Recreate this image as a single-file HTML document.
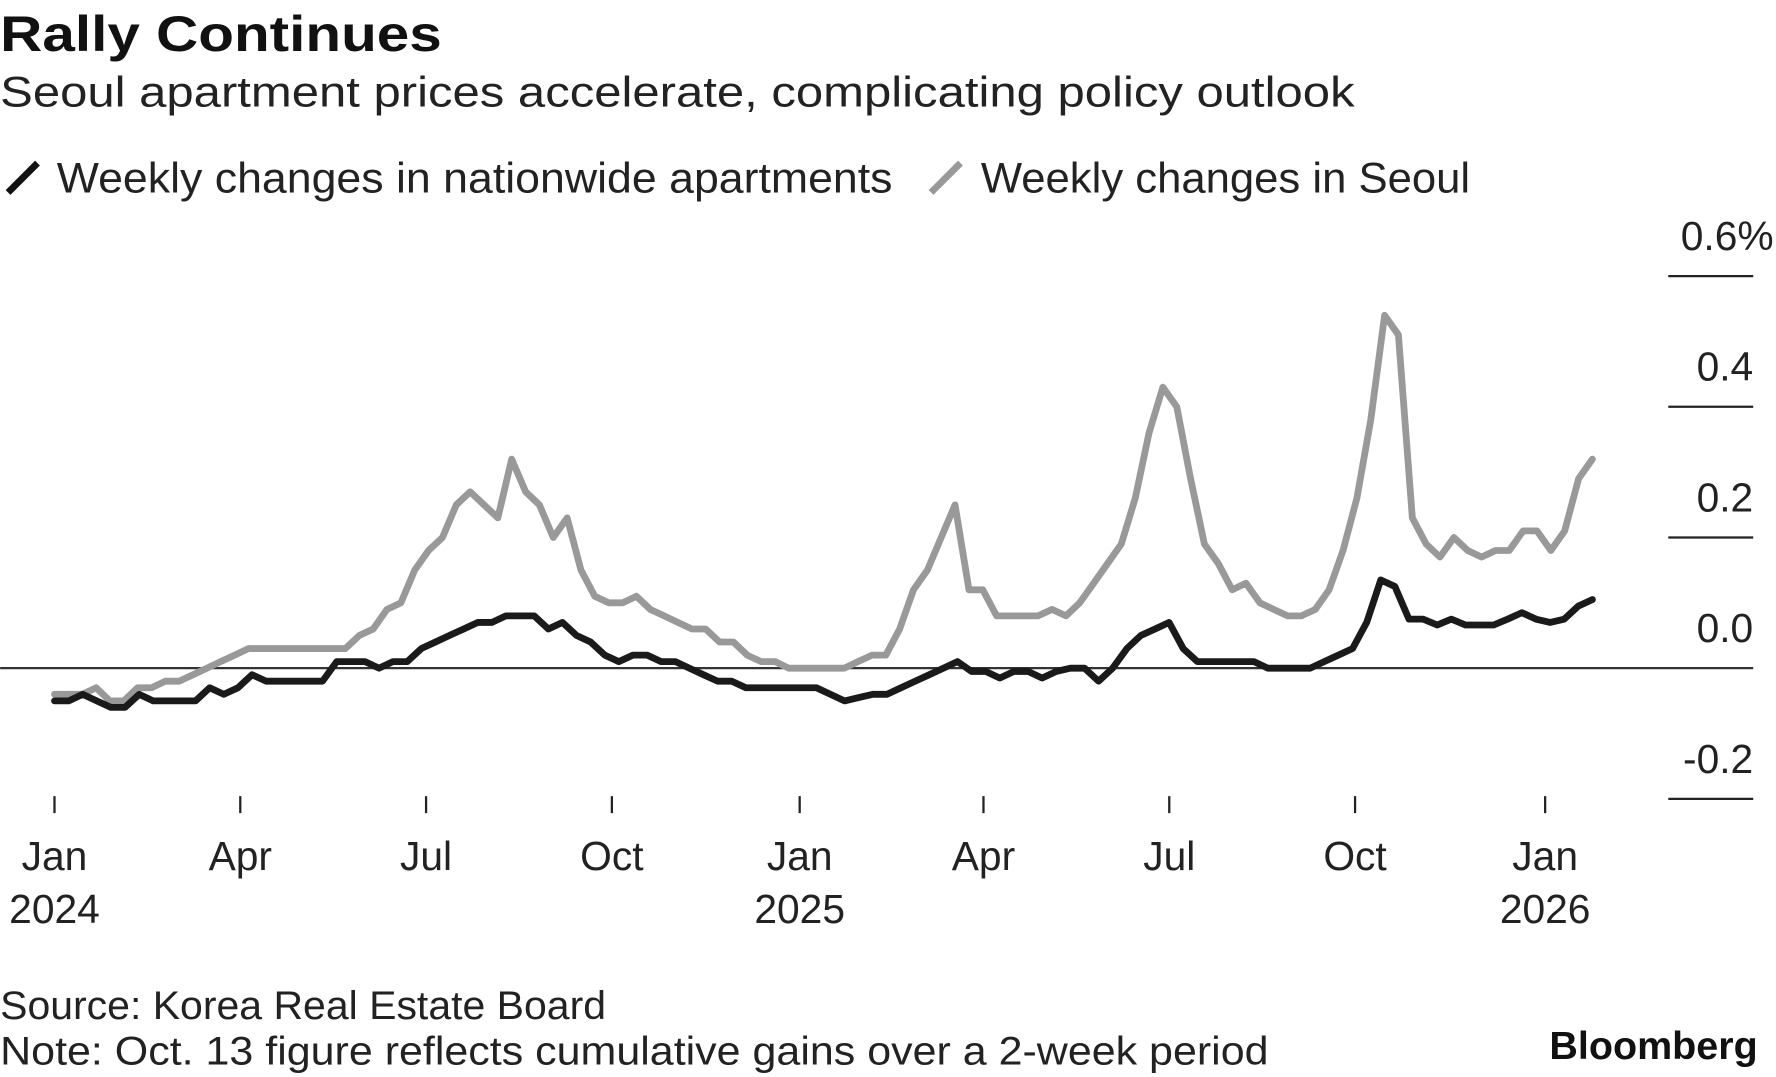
<!DOCTYPE html>
<html><head><meta charset="utf-8"><style>
html,body{margin:0;padding:0;background:#fff;}
svg{display:block;font-family:"Liberation Sans",sans-serif;}
</style></head><body>
<svg id="chart" width="1776" height="1077" viewBox="0 0 1568 951" xmlns="http://www.w3.org/2000/svg">
<rect width="1568" height="951" fill="#fff"/>
<text x="0" y="45" font-size="44" font-weight="bold" fill="#111" textLength="390" lengthAdjust="spacingAndGlyphs">Rally Continues</text>
<text x="0" y="94" font-size="38" fill="#222" textLength="1196" lengthAdjust="spacingAndGlyphs">Seoul apartment prices accelerate, complicating policy outlook</text>
<g>
<line x1="7" y1="170" x2="33" y2="144" stroke="#111" stroke-width="6"/>
<text x="50" y="170" font-size="38" fill="#222" textLength="738" lengthAdjust="spacingAndGlyphs">Weekly changes in nationwide apartments</text>
<line x1="822" y1="170" x2="848" y2="144" stroke="#999" stroke-width="6"/>
<text x="866" y="170" font-size="38" fill="#222" textLength="432" lengthAdjust="spacingAndGlyphs">Weekly changes in Seoul</text>
</g>
<g id="yaxis"></g>
<g id="xaxis"></g>
<g id="series"></g>
<text x="0" y="900" font-size="35" fill="#222" textLength="535" lengthAdjust="spacingAndGlyphs">Source: Korea Real Estate Board</text>
<text x="0" y="940" font-size="35" fill="#222" textLength="1120" lengthAdjust="spacingAndGlyphs">Note: Oct. 13 figure reflects cumulative gains over a 2-week period</text>
<text x="1368" y="935" font-size="34" font-weight="bold" fill="#111" textLength="184" lengthAdjust="spacingAndGlyphs">Bloomberg</text>
</svg>
<script>
const yTicks = [-0.2, 0.0, 0.2, 0.4, 0.6];
const yTickLabels = ["-0.2", "0.0", "0.2", "0.4", "0.6%"];
const xTickMonths = ["Jan","Apr","Jul","Oct","Jan","Apr","Jul","Oct","Jan"];
const xTickYears = ["2024","","","","2025","","","","2026"];
const xTickWeeks = [0, 13, 26, 39, 52.14, 65, 78, 91, 104.3];
const nationwide = [-0.05,-0.05,-0.04,-0.05,-0.06,-0.06,-0.04,-0.05,-0.05,-0.05,-0.05,-0.03,-0.04,-0.03,-0.01,-0.02,-0.02,-0.02,-0.02,-0.02,0.01,0.01,0.01,0.00,0.01,0.01,0.03,0.04,0.05,0.06,0.07,0.07,0.08,0.08,0.08,0.06,0.07,0.05,0.04,0.02,0.01,0.02,0.02,0.01,0.01,0.00,-0.01,-0.02,-0.02,-0.03,-0.03,-0.03,-0.03,-0.03,-0.03,-0.04,-0.05,-0.045,-0.04,-0.04,-0.03,-0.02,-0.01,0.00,0.01,-0.005,-0.005,-0.015,-0.005,-0.005,-0.015,-0.005,0.00,0.00,-0.02,0.00,0.03,0.05,0.06,0.07,0.03,0.01,0.01,0.01,0.01,0.01,0.00,0.00,0.00,0.00,0.01,0.02,0.03,0.07,0.135,0.125,0.075,0.075,0.066,0.075,0.066,0.066,0.066,0.075,0.085,0.075,0.07,0.075,0.095,0.105];
const seoul = [-0.04,-0.04,-0.04,-0.03,-0.05,-0.05,-0.03,-0.03,-0.02,-0.02,-0.01,0.00,0.01,0.02,0.03,0.03,0.03,0.03,0.03,0.03,0.03,0.03,0.05,0.06,0.09,0.10,0.15,0.18,0.20,0.25,0.27,0.25,0.23,0.32,0.27,0.25,0.20,0.23,0.15,0.11,0.10,0.10,0.11,0.09,0.08,0.07,0.06,0.06,0.04,0.04,0.02,0.01,0.01,0.00,0.00,0.00,0.00,0.00,0.01,0.02,0.02,0.06,0.12,0.15,0.20,0.25,0.12,0.12,0.08,0.08,0.08,0.08,0.09,0.08,0.10,0.13,0.16,0.19,0.26,0.36,0.43,0.40,0.29,0.19,0.16,0.12,0.13,0.10,0.09,0.08,0.08,0.09,0.12,0.18,0.26,0.38,0.54,0.51,0.23,0.19,0.17,0.20,0.18,0.17,0.18,0.18,0.21,0.21,0.18,0.21,0.29,0.32];

const NS = "http://www.w3.org/2000/svg";
const X0 = 48, XW = 12.62, Y0 = 590, YS = 577;
function xScale(w){ return X0 + w*XW; }
function yScale(v){ return Y0 - v*YS; }
function mk(tag, attrs, parent){ const e=document.createElementNS(NS,tag); for(const k in attrs) e.setAttribute(k,attrs[k]); parent.appendChild(e); return e; }

const yg = document.getElementById('yaxis');
yTicks.forEach((v,i)=>{
  const y = yScale(v);
  const ln = mk('line',{x1: v===0?0:1473, x2:1548, y1:y, y2:y, stroke: v===0?'#333':'#222', 'stroke-width': 2}, yg);
  
  
  const t = mk('text',{x: i===yTicks.length-1?1566:1548, y:y-23, 'font-size':36, fill:'#222', 'text-anchor':'end'}, yg);
  t.textContent = yTickLabels[i];
  
  
});

const xg = document.getElementById('xaxis');
xTickWeeks.forEach((w,i)=>{
  const x = xScale(w);
  const tk = mk('line',{x1:x,x2:x,y1:703,y2:718,stroke:'#222','stroke-width':2}, xg);
  
  
  const t = mk('text',{x:x,y:768,'font-size':36,fill:'#222','text-anchor':'middle'}, xg);
  t.textContent = xTickMonths[i];
  
  
  if (xTickYears[i]) {
    const ty = mk('text',{x:x,y:815,'font-size':36,fill:'#222','text-anchor':'middle'}, xg);
    ty.textContent = xTickYears[i];
    
    
  }
});

const sg = document.getElementById('series');
function drawLine(vals, color, name){
  const step = (1406 - X0) / XW / (vals.length - 1);
  const d = vals.map((v,i)=> (i?'L':'M') + xScale(i*step).toFixed(1) + ',' + yScale(v).toFixed(1)).join(' ');
  const p = mk('path',{d:d, fill:'none', stroke:color, 'stroke-width':6, 'stroke-linejoin':'round', 'stroke-linecap':'round'}, sg);
  
  
}
drawLine(seoul, '#999', 'seoul-line');
drawLine(nationwide, '#1a1a1a', 'nationwide-line');
</script>
</body></html>
